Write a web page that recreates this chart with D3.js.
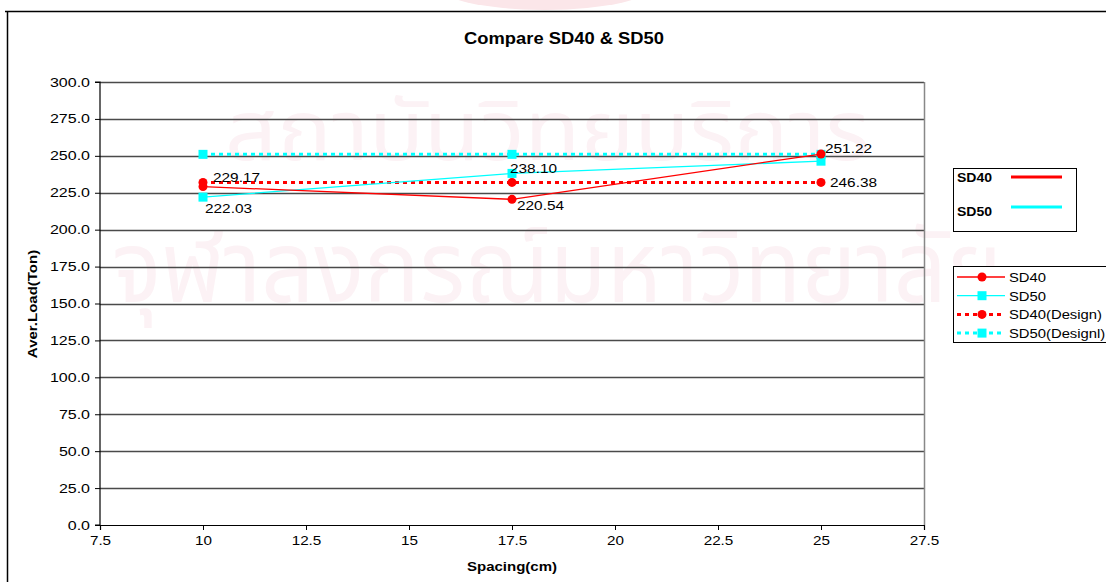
<!DOCTYPE html>
<html>
<head>
<meta charset="utf-8">
<script src="https://cdn.jsdelivr.net/npm/d3@7"></script>
<style>
  html, body { margin: 0; padding: 0; background: #fff; }
  svg { display: block; font-family: Arial, "Liberation Sans", sans-serif; }
</style>
</head>
<body>
<svg id="chart" width="1106" height="582"></svg>
<script>
const spacing = [10, 17.5, 25];
const sd40 = [229.17, 220.54, 251.22];
const sd50 = [222.03, 238.10, 246.38];
const sd40Design = [232, 232, 232];
const sd50Design = [251, 251, 251];
const sd40Labels = ["229.17", "220.54", "251.22"];
const sd50Labels = ["222.03", "238.10", "246.38"];
const xTicks = [7.5, 10, 12.5, 15, 17.5, 20, 22.5, 25, 27.5];
const xTickLabels = ["7.5", "10", "12.5", "15", "17.5", "20", "22.5", "25", "27.5"];
const yTicks = [0, 25, 50, 75, 100, 125, 150, 175, 200, 225, 250, 275, 300];
const yTickLabels = ["0.0", "25.0", "50.0", "75.0", "100.0", "125.0", "150.0", "175.0", "200.0", "225.0", "250.0", "275.0", "300.0"];
const watermarkLines = ["สถาบันวิทยบริการ", "จุฬาลงกรณ์มหาวิทยาลัย"];

const svg = d3.select("#chart");
const RED = "#ff0000", CYAN = "#00ffff";
const plot = { left: 100, right: 924, top: 82, bottom: 525 };
const x = d3.scaleLinear().domain([7.5, 27.5]).range([plot.left, plot.right]);
const y = d3.scaleLinear().domain([0, 300]).range([plot.bottom, plot.top]);

// horizontal stretch of text around its anchor
function stretch(sel, s) {
  sel.each(function () {
    const bb = this.getBBox();
    const anc = d3.select(this).attr("text-anchor") || getComputedStyle(this).textAnchor || "start";
    const ax = anc === "end" ? bb.x + bb.width : anc === "middle" ? bb.x + bb.width / 2 : bb.x;
    d3.select(this).attr("transform", `translate(${ax},0) scale(${s},1) translate(${-ax},0)`);
  });
}

// faint logo & watermark (scanned-page background)
const bg = svg.append("g");
bg.append("ellipse").attr("cx", 545).attr("cy", -16).attr("rx", 110).attr("ry", 26).attr("fill", "#fbe6e9");
const wm = bg.append("g").attr("fill", "#fcf2f5")
  .attr("font-family", "'Noto Sans Thai','Noto Sans','DejaVu Sans',sans-serif");
wm.append("text").attr("x", 225).attr("y", 160).attr("font-size", 84)
  .attr("textLength", 645).attr("lengthAdjust", "spacingAndGlyphs").text(watermarkLines[0]);
wm.append("text").attr("x", 112).attr("y", 302).attr("font-size", 100)
  .attr("textLength", 890).attr("lengthAdjust", "spacingAndGlyphs").text(watermarkLines[1]);

// outer border
svg.append("path").attr("d", "M5,11.5H1106M7.5,11V582").attr("stroke", "#000").attr("stroke-width", 1.5).attr("fill", "none");

// title
svg.append("text").attr("x", 564).attr("y", 44).attr("text-anchor", "middle")
  .attr("font-size", 17).attr("font-weight", "bold").text("Compare SD40 & SD50")
  .call(stretch, 1.08);

// gridlines
svg.append("g").selectAll("line").data(yTicks.filter(d => d > 0)).join("line")
  .attr("x1", plot.left).attr("x2", plot.right)
  .attr("y1", d => Math.round(y(d)) + 0.5).attr("y2", d => Math.round(y(d)) + 0.5)
  .attr("stroke", "#4a4a4a").attr("stroke-width", 1.6);
// right plot border
svg.append("line").attr("x1", plot.right + 0.5).attr("x2", plot.right + 0.5)
  .attr("y1", plot.top).attr("y2", plot.bottom).attr("stroke", "#888").attr("stroke-width", 1.5);

// axes
const yAxis = d3.axisLeft(y).tickValues(yTicks).tickFormat((d, i) => yTickLabels[i]).tickSize(5).tickPadding(5);
const gy = svg.append("g").attr("transform", `translate(${plot.left},0)`).call(yAxis);
const xAxis = d3.axisBottom(x).tickValues(xTicks).tickFormat((d, i) => xTickLabels[i]).tickSize(5).tickPadding(6);
const gx = svg.append("g").attr("transform", `translate(0,${plot.bottom})`).call(xAxis);
[gy, gx].forEach(g => {
  g.select(".domain").attr("stroke", "#000").attr("stroke-width", 1.2);
  g.selectAll(".tick line").attr("stroke", "#000");
  g.selectAll("text").attr("font-size", 12.5).attr("font-family", "Arial, 'Liberation Sans', sans-serif").attr("fill", "#000");
});
gy.select(".domain").attr("d", `M-5,${plot.top}H0V${plot.bottom}H-5`);
gy.selectAll(".tick text").call(stretch, 1.28);
gx.selectAll(".tick text").call(stretch, 1.22);

// axis titles
svg.append("text").attr("x", 512).attr("y", 571).attr("text-anchor", "middle")
  .attr("font-size", 12).attr("font-weight", "bold").text("Spacing(cm)").call(stretch, 1.25);
svg.append("text").attr("transform", "translate(37,304) rotate(-90) scale(1.25,1)").attr("text-anchor", "middle")
  .attr("font-size", 12).attr("font-weight", "bold").text("Aver.Load(Ton)");

const line = d3.line().x((d, i) => x(spacing[i])).y(d => y(d));

function drawSeries(vals, color, dashed, marker) {
  const g = svg.append("g");
  g.append("path").attr("d", line(vals)).attr("fill", "none").attr("stroke", color)
    .attr("stroke-width", dashed ? 3 : 1.3).attr("stroke-dasharray", dashed ? "4,4" : null);
  if (marker === "circle") {
    g.selectAll("circle").data(vals).join("circle")
      .attr("cx", (d, i) => x(spacing[i])).attr("cy", d => y(d)).attr("r", 4.5).attr("fill", color);
  } else {
    g.selectAll("rect").data(vals).join("rect")
      .attr("x", (d, i) => x(spacing[i]) - 4.5).attr("y", d => y(d) - 4.5)
      .attr("width", 9).attr("height", 9).attr("fill", color);
  }
}
drawSeries(sd40Design, RED, true, "circle");
drawSeries(sd50Design, CYAN, true, "rect");
drawSeries(sd50, CYAN, false, "rect");
drawSeries(sd40, RED, false, "circle");

// data labels
const lblOff40 = [[10, -5], [5, 11], [4, -1]];
const lblOff50 = [[2, 16], [-2, 0], [9, 26]];
function drawLabels(vals, labels, offs) {
  svg.append("g").selectAll("text").data(vals).join("text")
    .attr("x", (d, i) => x(spacing[i]) + offs[i][0]).attr("y", (d, i) => y(d) + offs[i][1])
    .attr("font-size", 13.5).attr("fill", "#000").text((d, i) => labels[i])
    .call(stretch, 1.14);
}
drawLabels(sd40, sd40Labels, lblOff40);
drawLabels(sd50, sd50Labels, lblOff50);

// legend 1
const l1 = svg.append("g");
l1.append("rect").attr("x", 953.5).attr("y", 168.5).attr("width", 123).attr("height", 63)
  .attr("fill", "#fff").attr("stroke", "#000").attr("stroke-width", 1);
[["SD40", RED, 182, 177], ["SD50", CYAN, 216, 207]].forEach(([t, c, ty, ly]) => {
  l1.append("text").attr("x", 957).attr("y", ty).attr("font-size", 13).attr("font-weight", "bold").text(t).call(stretch, 1.08);
  l1.append("line").attr("x1", 1011).attr("x2", 1062).attr("y1", ly).attr("y2", ly).attr("stroke", c).attr("stroke-width", 3);
});

// legend 2
const l2 = svg.append("g");
l2.append("rect").attr("x", 953.5).attr("y", 266.5).attr("width", 160).attr("height", 76)
  .attr("fill", "#fff").attr("stroke", "#000").attr("stroke-width", 1);
const legItems = [["SD40", RED, false, "circle"], ["SD50", CYAN, false, "rect"],
                  ["SD40(Design)", RED, true, "circle"], ["SD50(Designl)", CYAN, true, "rect"]];
legItems.forEach(([t, c, dashed, m], i) => {
  const cy = 277 + i * 18.7;
  l2.append("line").attr("x1", 957).attr("x2", 1005).attr("y1", cy).attr("y2", cy).attr("stroke", c)
    .attr("stroke-width", dashed ? 3 : 1.3).attr("stroke-dasharray", dashed ? "4,4" : null);
  if (m === "circle") l2.append("circle").attr("cx", 982).attr("cy", cy).attr("r", 4.5).attr("fill", c);
  else l2.append("rect").attr("x", 977.5).attr("y", cy - 4.5).attr("width", 9).attr("height", 9).attr("fill", c);
  l2.append("text").attr("x", 1009).attr("y", cy + 5).attr("font-size", 13).text(t).call(stretch, 1.14);
});
</script>
</body>
</html>
